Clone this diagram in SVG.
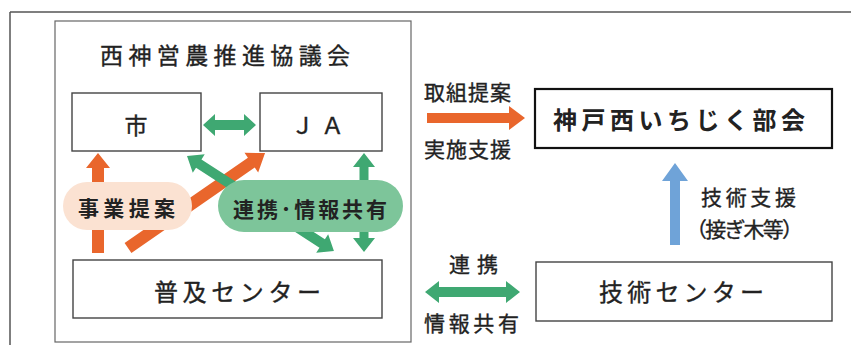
<svg xmlns="http://www.w3.org/2000/svg" width="851" height="345" viewBox="0 0 851 345">
<style>
.box{fill:#fff;stroke:#444;stroke-width:1.4}
.t{font-family:"Noto Sans CJK JP","Noto Sans",sans-serif;fill:#222;stroke:#222;stroke-width:0.35}
.b{font-weight:bold;stroke-width:0}
.or{fill:#e9662c}
.gr{fill:#3fa872}
.bl{fill:#6fa3d8}
</style>
<rect width="851" height="345" fill="#fff"/>
<g id="frame">
<path d="M10,12 H851 M10,12 V345" fill="none" stroke="#555" stroke-width="1.5"/>
</g>
<g id="council">
<rect x="55" y="21" width="356" height="321" fill="none" stroke="#666" stroke-width="1.2"/>
<text class="t" x="100" y="64" font-size="23" textLength="250" lengthAdjust="spacing">西神営農推進協議会</text>
</g>
<g id="connectors">
<polygon class="or" transform="translate(98,253) rotate(-90)" points="0,-6 85,-6 85,-12 100,0 85,12 85,6 0,6"/>
<polygon class="or" transform="translate(128,248) rotate(-34.7)" points="0,-6 150,-6 150,-12 166.7,0 150,12 150,6 0,6"/>
<polygon class="gr" transform="translate(203,125)" points="0,0 12,-11 12,-5 41,-5 41,-11 53,0 41,11 41,5 12,5 12,11"/>
<polygon class="gr" transform="translate(187,156) rotate(32.9)" points="0,0 14,-11 14,-5 161,-5 161,-11 175,0 161,11 161,5 14,5 14,11"/>
<polygon class="gr" transform="translate(364,153) rotate(90)" points="0,0 14,-11 14,-4.5 85,-4.5 85,-11 99,0 85,11 85,4.5 14,4.5 14,11"/>
<polygon class="or" transform="translate(427,118)" points="0,-5 82,-5 82,-12 98,0 82,12 82,5 0,5"/>
<polygon class="bl" transform="translate(675,245) rotate(-90)" points="0,-5 64,-5 64,-13 82,0 64,13 64,5 0,5"/>
<polygon class="gr" transform="translate(425,292)" points="0,0 14,-11 14,-5 81,-5 81,-11 95,0 81,11 81,5 14,5 14,11"/>
</g>
<g id="pill-jigyo">
<rect x="63" y="182" width="129" height="48" rx="24" fill="#fbe2d2"/>
<text class="t b" x="78" y="216" font-size="21" textLength="97" lengthAdjust="spacing">事業提案</text>
</g>
<g id="pill-renkei">
<rect x="218" y="180" width="185" height="52" rx="26" fill="#7dc59a"/>
<text class="t b" x="233" y="217" font-size="21" textLength="154" lengthAdjust="spacing">連携･情報共有</text>
</g>
<g id="shi">
<rect class="box" x="72" y="93" width="129" height="58"/>
<text class="t" x="136" y="134" font-size="23" text-anchor="middle">市</text>
</g>
<g id="ja">
<rect class="box" x="260" y="93" width="122" height="58"/>
<text class="t" x="291" y="134" font-size="23" textLength="53" lengthAdjust="spacing">ＪＡ</text>
</g>
<g id="fukyu">
<rect class="box" x="73" y="260" width="309" height="58"/>
<text class="t" x="154" y="301" font-size="24" textLength="167" lengthAdjust="spacing">普及センター</text>
</g>
<g id="bukai">
<rect x="535" y="89" width="297" height="59" fill="#fff" stroke="#111" stroke-width="2.2"/>
<text class="t b" x="553" y="129" font-size="24" textLength="252" lengthAdjust="spacing">神戸西いちじく部会</text>
</g>
<g id="gijutsu">
<rect class="box" x="536" y="262" width="296" height="59"/>
<text class="t" x="599" y="301" font-size="24" textLength="165" lengthAdjust="spacing">技術センター</text>
</g>
<g id="labels">
<text class="t" x="424" y="100" font-size="21" textLength="87" lengthAdjust="spacing">取組提案</text>
<text class="t" x="424" y="157" font-size="21" textLength="87" lengthAdjust="spacing">実施支援</text>
<text class="t" x="701" y="205" font-size="21" textLength="95" lengthAdjust="spacing">技術支援</text>
<text class="t" x="686" y="237" font-size="21" textLength="117" lengthAdjust="spacing">（接ぎ木等）</text>
<text class="t" x="449" y="272" font-size="21" textLength="49" lengthAdjust="spacing">連携</text>
<text class="t" x="424" y="331" font-size="21" textLength="95" lengthAdjust="spacing">情報共有</text>
</g>
</svg>
